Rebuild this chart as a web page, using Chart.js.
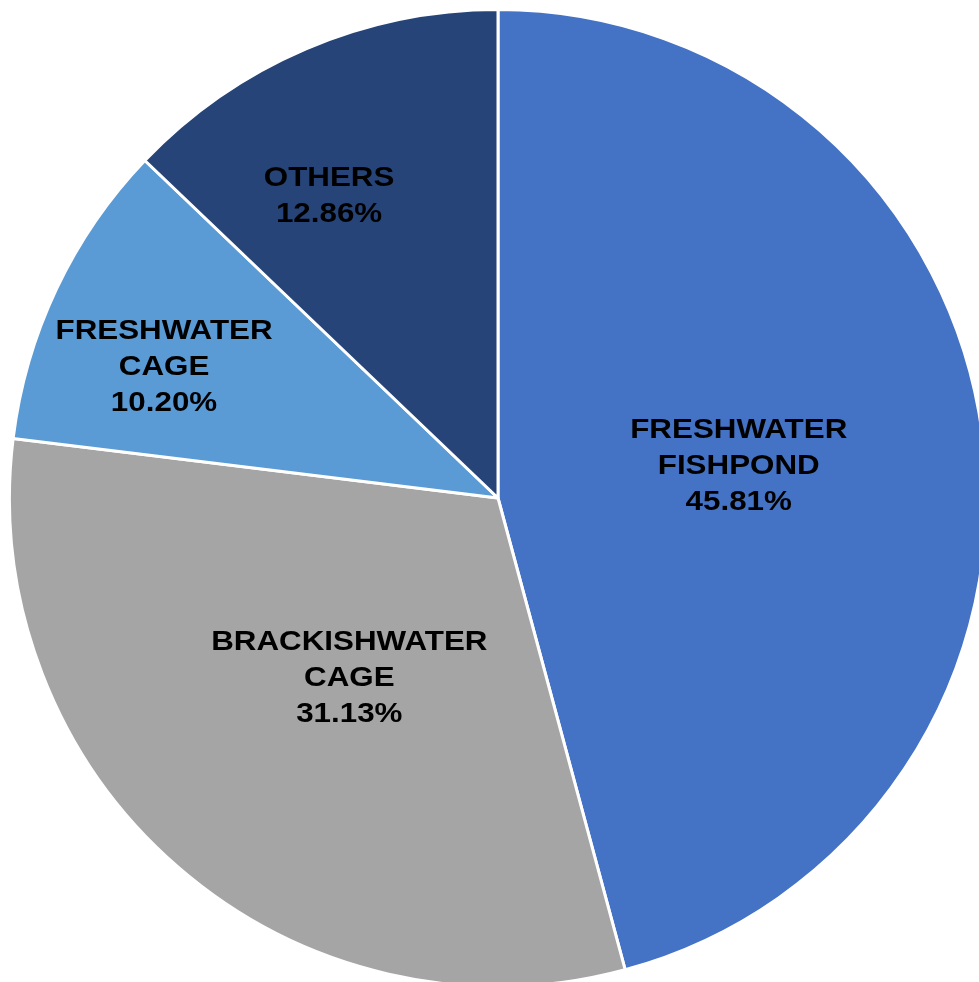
<!DOCTYPE html>
<html>
<head>
<meta charset="utf-8">
<script src="https://cdn.jsdelivr.net/npm/chart.js@4/dist/chart.umd.min.js"></script>
<style>
html,body{margin:0;padding:0;background:#fff;overflow:hidden;width:979px;height:982px;}
#wrap{position:absolute;left:0;top:0;width:1000px;height:1000px;}
</style>
</head>
<body>
<div id="wrap"><canvas id="c" width="1000" height="1000"></canvas></div>
<script>
const categories = [["FRESHWATER","FISHPOND"],["BRACKISHWATER","CAGE"],["FRESHWATER","CAGE"],["OTHERS"]];
const values = [45.81, 31.13, 10.20, 12.86];
const colors = ["#4472C4","#A5A5A5","#5B9BD5","#264478"];
const labelRadiusFrac = [0.4975, 0.477, 0.735, 0.71];
const labelAngleShift = [-0.3, -1.3, -3.8, -6.0];

const labelPlugin = {
  id: 'sliceLabels',
  afterDatasetsDraw(chart) {
    const ctx = chart.ctx;
    const meta = chart.getDatasetMeta(0);
    const sx = 1.1;
    ctx.save();
    ctx.font = 'bold 28.5px "Liberation Sans", Arial, sans-serif';
    ctx.fillStyle = '#000';
    ctx.textAlign = 'center';
    ctx.textBaseline = 'middle';
    meta.data.forEach((arc, i) => {
      const p = arc.getProps(['x','y','startAngle','endAngle','outerRadius'], true);
      const mid = (p.startAngle + p.endAngle) / 2 + labelAngleShift[i] * Math.PI / 180;
      const r = p.outerRadius * labelRadiusFrac[i];
      const cx = p.x + Math.cos(mid) * r;
      const cy = p.y + Math.sin(mid) * r + 1;
      const lines = categories[i].concat([values[i].toFixed(2) + '%']);
      const lh = 36;
      const y0 = cy - (lines.length - 1) * lh / 2;
      lines.forEach((t, k) => {
        ctx.save();
        ctx.translate(cx, y0 + k * lh);
        ctx.scale(sx, 1);
        ctx.fillText(t, 0, 0);
        ctx.restore();
      });
    });
    ctx.restore();
  }
};

new Chart(document.getElementById('c'), {
  type: 'pie',
  data: {
    labels: categories.map(c => c.join(' ')),
    datasets: [{
      data: values,
      backgroundColor: colors,
      borderColor: '#ffffff',
      borderWidth: 3
    }]
  },
  options: {
    responsive: false,
    animation: false,
    layout: { padding: { left: 8, top: 8, right: 12, bottom: 12 } },
    plugins: { legend: { display: false }, tooltip: { enabled: false } }
  },
  plugins: [labelPlugin]
});
</script>
</body>
</html>
